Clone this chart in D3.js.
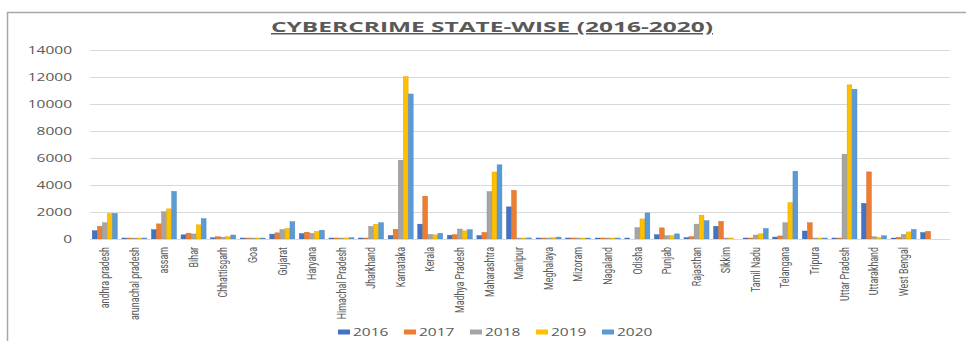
<!DOCTYPE html>
<html>
<head>
<meta charset="utf-8">
<script src="https://cdn.jsdelivr.net/npm/d3@7/dist/d3.min.js"></script>
<style>
  html, body { margin: 0; padding: 0; background: #fff; }
  svg { display: block; }
</style>
</head>
<body>
<svg id="chart" width="966" height="341"></svg>
<script>
// Reported cybercrime cases by state, 2016-2020
const states = ["andhra pradesh", "arunachal pradesh", "assam", "Bihar", "Chhattisgarh", "Goa",
  "Gujarat", "Haryana", "Himachal Pradesh", "Jharkhand", "Karnataka", "Kerala", "Madhya Pradesh",
  "Maharashtra", "Manipur", "Meghalaya", "Mizoram", "Nagaland", "Odisha", "Punjab", "Rajasthan",
  "Sikkim", "Tamil Nadu", "Telangana", "Tripura", "Uttar Pradesh", "Uttarakhand", "West Bengal", ""];

const years = ["2016", "2017", "2018", "2019", "2020"];

const cases2016 = [616, 4, 696, 309, 90, 31, 362, 401, 31, 28, 259, 1101, 283, 258, 2380, 11, 39, 1, 2, 317, 102, 941, 1, 144, 593, 8, 2639, 62, 478];
const cases2017 = [931, 1, 1120, 433, 171, 13, 458, 504, 56, 63, 720, 3174, 320, 490, 3604, 74, 39, 10, 0, 824, 176, 1304, 1, 228, 1209, 7, 4971, 124, 568];
const cases2018 = [1207, 7, 2022, 374, 139, 29, 702, 418, 69, 930, 5839, 340, 740, 3511, 29, 74, 6, 2, 843, 239, 1104, 1, 295, 1205, 20, 6280, 171, 335, 0];
const cases2019 = [1886, 8, 2231, 1050, 175, 15, 784, 564, 76, 1095, 12020, 307, 602, 4967, 4, 89, 8, 2, 1485, 243, 1762, 2, 385, 2691, 20, 11416, 100, 524, 0];
const cases2020 = [1899, 30, 3530, 1512, 297, 40, 1283, 656, 98, 1204, 10741, 426, 699, 5496, 79, 142, 13, 8, 1931, 378, 1354, 0, 782, 5024, 34, 11097, 243, 712, 0];

const yTicks = [0, 2000, 4000, 6000, 8000, 10000, 12000, 14000];
const colors = ["#4472C4", "#ED7D31", "#A5A5A5", "#FFC000", "#5B9BD5"];

const series = [cases2016, cases2017, cases2018, cases2019, cases2020];
const rows = states.map((s, i) => ({ key: i, name: s, values: series.map(v => v[i]) }));

const svg = d3.select("#chart");
const textColor = "#595959";

// Chart frame
svg.append("path")
  .attr("d", "M7.5,341 L7.5,12.5 L966,12.5")
  .attr("fill", "none")
  .attr("stroke", "#a6a6a6")
  .attr("stroke-width", 1.5);

// Title
svg.append("text")
  .attr("x", 492).attr("y", 32)
  .attr("text-anchor", "middle")
  .attr("font-family", "'Open Sans', sans-serif")
  .attr("font-weight", "bold")
  .attr("font-size", 15)
  .attr("fill", textColor)
  .attr("text-decoration", "underline")
  .attr("textLength", 442)
  .attr("lengthAdjust", "spacingAndGlyphs")
  .text("CYBERCRIME STATE-WISE (2016-2020)");

const x0 = d3.scaleBand().domain(rows.map(r => r.key)).range([90, 948]).paddingInner(0.14).paddingOuter(0.07);
const x1 = d3.scaleBand().domain(years).range([0, x0.bandwidth()]).padding(0.04);
const y = d3.scaleLinear().domain([0, 14000]).range([239, 50]);

// Gridlines
svg.append("g")
  .selectAll("line")
  .data(yTicks)
  .join("line")
  .attr("x1", 90).attr("x2", 950)
  .attr("y1", d => Math.round(y(d)) + 0.5)
  .attr("y2", d => Math.round(y(d)) + 0.5)
  .attr("stroke", "#d9d9d9")
  .attr("stroke-width", 1);

// Y axis labels (wide Excel-style digits)
const yAxis = d3.axisLeft(y).tickValues(yTicks).tickSize(0).tickPadding(0).tickFormat(d3.format("d"));
const yg = svg.append("g").attr("transform", "translate(72,0)").call(yAxis);
yg.select(".domain").remove();
yg.selectAll("text")
  .attr("font-family", "'Open Sans', sans-serif")
  .attr("font-size", 10)
  .attr("fill", textColor)
  .attr("x", 0)
  .attr("transform", "scale(1.55,1)");

// Bars
const groups = svg.append("g")
  .selectAll("g")
  .data(rows)
  .join("g")
  .attr("transform", d => `translate(${x0(d.key)},0)`);

groups.selectAll("rect")
  .data(d => d.values.map((v, i) => ({ year: years[i], value: v, i })))
  .join("rect")
  .attr("x", d => x1(d.year))
  .attr("width", x1.bandwidth())
  .attr("y", d => d.value > 0 ? Math.min(y(d.value), 238) : 239)
  .attr("height", d => d.value > 0 ? Math.max(239 - y(d.value), 1) : 0)
  .attr("fill", d => colors[d.i])
  .attr("stroke", d => d3.color(colors[d.i]).darker(0.5))
  .attr("stroke-width", 0.4);

// X axis category labels, rotated and condensed
const xAxis = d3.axisBottom(x0).tickSize(0).tickFormat(k => states[k]);
const xg = svg.append("g").attr("transform", "translate(0,239)").call(xAxis);
xg.select(".domain").attr("stroke", "#d9d9d9").attr("d", "M90,0.5H950");
xg.selectAll("text")
  .attr("font-family", "Roboto, sans-serif")
  .attr("font-size", 12)
  .attr("fill", textColor)
  .attr("text-anchor", "end")
  .attr("x", 0).attr("y", 0)
  .attr("dy", "0.35em")
  .attr("transform", "translate(0,8) rotate(-90) scale(0.74,1)");

// Legend
const legend = svg.append("g")
  .selectAll("g")
  .data(years)
  .join("g")
  .attr("transform", (d, i) => `translate(${338 + i * 66},332)`);
legend.append("rect")
  .attr("x", 0).attr("y", -2.5)
  .attr("width", 12).attr("height", 5)
  .attr("fill", (d, i) => colors[i]);
legend.append("text")
  .attr("transform", "translate(15,0) scale(1.55,1)")
  .attr("dy", "0.35em")
  .attr("font-family", "'Open Sans', sans-serif")
  .attr("font-size", 10)
  .attr("fill", textColor)
  .text(d => d);
</script>
</body>
</html>
